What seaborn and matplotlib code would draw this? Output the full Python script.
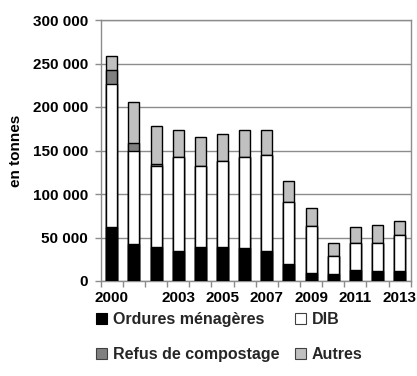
import numpy as np
import pandas as pd
import matplotlib
matplotlib.use("Agg")
import matplotlib.pyplot as plt
from matplotlib.patches import Patch
from matplotlib.ticker import FixedLocator, FuncFormatter
import seaborn as sns

years = [2000, 2001, 2002, 2003, 2004, 2005, 2006, 2007, 2008, 2009, 2010, 2011, 2012, 2013]
ordures_menageres = [62000, 42500, 39000, 34500, 39000, 39000, 37500, 34500, 19000, 9500, 8000, 12500, 11500, 11500]
dib = [165000, 107500, 93000, 107500, 93000, 98500, 104500, 110500, 72000, 54000, 21000, 31500, 32500, 41500]
refus_compostage = [16000, 8500, 3000, 0, 0, 0, 0, 0, 0, 0, 0, 0, 0, 0]
autres = [15500, 47000, 43000, 31000, 34000, 31500, 31000, 28000, 24000, 20500, 15000, 17500, 20500, 16500]
labelled_years = [2000, 2003, 2005, 2007, 2009, 2011, 2013]

series = ["Ordures ménagères", "DIB", "Refus de compostage", "Autres"]
colors = ["#000000", "#ffffff", "#808080", "#c0c0c0"]
edge_legend = ["#000000", "#404040", "#404040", "#404040"]

df = pd.DataFrame({
    "annee": [str(y) for y in years],
    "Ordures ménagères": ordures_menageres,
    "DIB": dib,
    "Refus de compostage": refus_compostage,
    "Autres": autres,
})
cum = df[series].cumsum(axis=1)

sns.set_theme(style="white")
plt.rcParams["font.family"] = ["Liberation Sans", "DejaVu Sans"]
plt.rcParams["font.weight"] = "bold"
FS = 11

fig = plt.figure(figsize=(4.17, 3.76), dpi=100)
ax = fig.add_axes([100.7 / 417, 1 - 281 / 376, 310 / 417, 261 / 376])

# stacked bars: draw cumulative totals from the top layer down
for name, color in reversed(list(zip(series, colors))):
    sns.barplot(x=df["annee"], y=cum[name], color=color, edgecolor="#000000",
                linewidth=1.0, width=0.5, saturation=1, ax=ax, zorder=3)

ax.set_ylim(0, 300000)
ax.set_xlim(-0.5, len(years) - 0.5)
ax.set_yticks(np.arange(0, 300001, 50000))
ax.yaxis.set_major_formatter(FuncFormatter(lambda v, p: f"{int(v):,}".replace(",", " ")))
ax.yaxis.grid(True, color="#8c8c8c", linewidth=1.0, zorder=0)
ax.set_axisbelow(True)

pos = [years.index(y) for y in labelled_years]
ax.set_xticks(pos)
ax.set_xticklabels([str(y) for y in labelled_years])
ax.xaxis.set_minor_locator(FixedLocator(np.arange(-0.5, len(years), 1.0)))
ax.tick_params(axis="x", which="major", length=0, pad=7, labelsize=FS)
ax.tick_params(axis="x", which="minor", length=4, width=1, color="#8c8c8c", direction="out")
ax.tick_params(axis="y", length=4, width=1, color="#8c8c8c", direction="out", labelsize=FS, pad=5)
ax.xaxis.set_ticks_position("bottom")
ax.yaxis.set_ticks_position("left")
for lab in ax.get_xticklabels() + ax.get_yticklabels():
    lab.set_fontweight("bold")
    lab.set_color("#000000")

for s in ax.spines.values():
    s.set_visible(True)
    s.set_color("#8c8c8c")
    s.set_linewidth(1.0)

ax.set_xlabel("")
ax.set_ylabel("en tonnes", fontsize=FS, fontweight="bold", color="#000000")
ax.yaxis.set_label_coords(-0.25, 0.5)

handles = [Patch(facecolor=c, edgecolor=e, linewidth=0.8) for c, e in zip(colors, edge_legend)]
leg_kw = dict(frameon=False, handlelength=0.7, handleheight=0.7,
              handletextpad=0.35, labelspacing=1.25, borderpad=0, borderaxespad=0,
              loc="upper left", prop={"weight": "bold", "size": 11.5})
# left column: Ordures ménagères / Refus de compostage; right column: DIB / Autres
leg1 = fig.legend([handles[0], handles[2]], [series[0], series[2]],
                  bbox_to_anchor=(96 / 417, 1 - 312 / 376), **leg_kw)
leg2 = fig.legend([handles[1], handles[3]], [series[1], series[3]],
                  bbox_to_anchor=(295 / 417, 1 - 312 / 376), **leg_kw)

fig.savefig("out.png", dpi=100)
